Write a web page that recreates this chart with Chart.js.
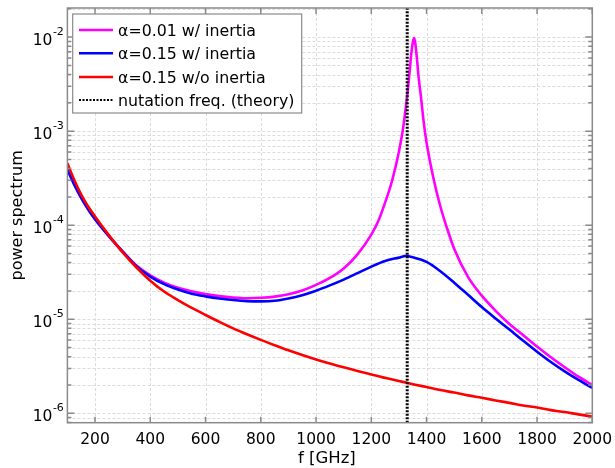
<!DOCTYPE html>
<html><head><meta charset="utf-8">
<script src="https://cdn.jsdelivr.net/npm/chart.js@4.4.1/dist/chart.umd.min.js"></script>
<style>html,body{margin:0;padding:0;background:#fff;}canvas{display:block;}</style>
</head><body>
<canvas id="c" width="615" height="468"></canvas>
<script>
// frequency grid for the broad curves [GHz]
const freq = [100,125,150,175,200,250,300,350,400,450,500,550,600,650,700,750,800,850,900,950,1000,1050,1100,1150,1200,1250,1300,1325,1350,1400,1450,1500,1550,1600,1650,1700,1750,1800,1850,1900,1950,2000];
// frequency grid for the sharp resonance curve [GHz]
const freqPeak = [100,125,150,175,200,250,300,350,400,450,500,550,600,650,700,750,800,850,900,950,1000,1050,1100,1150,1200,1225,1250,1275,1300,1315,1330,1340,1345,1355,1365,1370,1380,1390,1400,1425,1450,1475,1500,1550,1600,1650,1700,1750,1800,1850,1900,1950,2000];
const alpha001Inertia = [3.89e-4,2.69e-4,1.95e-4,1.48e-4,1.16e-4,
 7.67e-5,5.27e-5,3.72e-5,2.92e-5,2.45e-5,2.16e-5,1.98e-5,1.85e-5,1.76e-5,1.70e-5,1.67e-5,1.69e-5,1.74e-5,1.84e-5,2.02e-5,2.32e-5,2.75e-5,3.47e-5,4.90e-5,
 7.94e-5,1.10e-4,1.74e-4,2.95e-4,6.03e-4,
 1.07e-3,2.40e-3,4.68e-3,6.76e-3,9.77e-3,6.03e-3,4.07e-3,2.29e-3,1.23e-3,7.59e-4,
 3.16e-4,1.58e-4,9.12e-5,5.62e-5,
 2.82e-5,1.78e-5,1.23e-5,8.91e-6,6.76e-6,5.13e-6,3.94e-6,3.09e-6,2.45e-6,2.00e-6];
const alpha015Inertia = [3.89e-4,2.69e-4,1.95e-4,1.48e-4,1.16e-4,
 7.67e-5,5.25e-5,3.67e-5,2.84e-5,2.36e-5,2.07e-5,1.87e-5,1.75e-5,1.66e-5,1.60e-5,1.56e-5,1.55e-5,1.57e-5,1.66e-5,1.80e-5,2.01e-5,2.29e-5,2.64e-5,3.09e-5,3.63e-5,
 4.17e-5,4.52e-5,4.70e-5,4.57e-5,4.07e-5,3.24e-5,2.45e-5,
 1.82e-5,1.35e-5,1.02e-5,7.76e-6,5.89e-6,4.52e-6,3.51e-6,2.79e-6,2.26e-6,1.86e-6];
const alpha015NoInertia = [4.57e-4,3.02e-4,2.11e-4,1.58e-4,1.24e-4,
 7.85e-5,5.13e-5,3.55e-5,2.57e-5,1.97e-5,1.60e-5,1.32e-5,1.11e-5,9.38e-6,8.00e-6,6.92e-6,6.03e-6,5.30e-6,4.68e-6,4.17e-6,3.74e-6,3.38e-6,3.08e-6,2.82e-6,2.58e-6,
 2.38e-6,2.20e-6,2.12e-6,2.04e-6,1.90e-6,1.77e-6,1.66e-6,
 1.55e-6,1.46e-6,1.37e-6,1.29e-6,1.21e-6,1.15e-6,1.08e-6,1.03e-6,9.73e-7,9.23e-7];
const nutationFreq = 1330;
const seriesLabels = ['\u03b1=0.01 w/ inertia','\u03b1=0.15 w/ inertia','\u03b1=0.15 w/o inertia','nutation freq. (theory)'];
const xTickValues = [200,400,600,800,1000,1200,1400,1600,1800,2000];
const yDecadeExponents = [-2,-3,-4,-5,-6];
const xMin = 100, xMax = 2000;
const yMin = 7.94e-7, yMax = 2.04e-2;
const xTitle = 'f [GHz]';
const yTitle = 'power spectrum';

const FONT = '"DejaVu Sans", sans-serif';
const toXY = (xs, arr) => xs.map((f,i)=>({x:f,y:arr[i]}));

const decor = {
  id:'decor',
  beforeDatasetsDraw(chart){
    const {ctx, chartArea:a, scales:{x:xs,y:ys}} = chart;
    ctx.save();
    ctx.strokeStyle = '#dcdcdc'; ctx.lineWidth = 1; ctx.setLineDash([3,2]);
    ctx.beginPath();
    xTickValues.forEach(v=>{const px=Math.round(xs.getPixelForValue(v))+0.5; ctx.moveTo(px,a.top); ctx.lineTo(px,a.bottom);});
    for(let e=-7;e<=-1;e++){for(let m=1;m<=9;m++){const v=m*Math.pow(10,e); if(v<yMin||v>yMax) continue; const py=Math.round(ys.getPixelForValue(v))+0.5; ctx.moveTo(a.left,py); ctx.lineTo(a.right,py);}}
    ctx.stroke();
    ctx.restore();
  },
  afterDatasetsDraw(chart){
    const {ctx, chartArea:a, scales:{x:xs,y:ys}} = chart;
    ctx.save();
    ctx.setLineDash([]);
    ctx.strokeStyle = '#8a8a8a'; ctx.lineWidth = 1.5;
    ctx.strokeRect(a.left, a.top, a.right-a.left, a.bottom-a.top);
    ctx.beginPath();
    xTickValues.forEach(v=>{const px=xs.getPixelForValue(v); ctx.moveTo(px,a.bottom); ctx.lineTo(px,a.bottom-6); ctx.moveTo(px,a.top); ctx.lineTo(px,a.top+6);});
    for(let e=-7;e<=-1;e++){for(let m=1;m<=9;m++){const v=m*Math.pow(10,e); if(v<yMin||v>yMax) continue; const py=ys.getPixelForValue(v); const L=m===1?7:4; ctx.moveTo(a.left,py); ctx.lineTo(a.left+L,py); ctx.moveTo(a.right,py); ctx.lineTo(a.right-L,py);}}
    ctx.stroke();
    // tick labels
    ctx.fillStyle = '#000';
    ctx.font = '15.5px ' + FONT; ctx.textAlign='center'; ctx.textBaseline='alphabetic';
    xTickValues.forEach(v=>{ctx.fillText(String(v), xs.getPixelForValue(v), a.bottom+21.5);});
    yDecadeExponents.forEach(e=>{
      const py = ys.getPixelForValue(Math.pow(10,e));
      ctx.font = '15.5px ' + FONT; ctx.textAlign='right';
      ctx.fillText('10', a.left-15, py+7.4);
      ctx.font = '11px ' + FONT; ctx.textAlign='left';
      ctx.fillText(String(e), a.left-14.5, py-2);
    });
    // titles
    ctx.font = '16.5px ' + FONT; ctx.textAlign='center';
    ctx.fillText(xTitle, (a.left+a.right)/2-3, 462.5);
    ctx.save();
    ctx.translate(21.5, (a.top+a.bottom)/2);
    ctx.rotate(-Math.PI/2);
    ctx.font = '16px ' + FONT;
    ctx.fillText(yTitle, 0, 0);
    ctx.restore();
    // legend
    const lx=72.7, ly=14, lw=229, lh=99;
    ctx.fillStyle='#fff'; ctx.fillRect(lx,ly,lw,lh);
    ctx.strokeStyle='#8a8a8a'; ctx.lineWidth=1.2; ctx.strokeRect(lx,ly,lw,lh);
    const rows=[30,53.3,77,100];
    chart.data.datasets.forEach((ds,i)=>{
      const ry=rows[i];
      ctx.save();
      ctx.strokeStyle=ds.borderColor; ctx.lineWidth = i===3?2:2.5;
      ctx.setLineDash(i===3?[2,1.5]:[]);
      ctx.beginPath(); ctx.moveTo(79,ry); ctx.lineTo(113,ry); ctx.stroke();
      ctx.restore();
      ctx.fillStyle='#000'; ctx.font='15.8px ' + FONT; ctx.textAlign='left';
      ctx.fillText(ds.label, 118, ry+6);
    });
    ctx.restore();
  }
};

new Chart(document.getElementById('c'), {
  type:'line',
  data:{datasets:[
    {label:seriesLabels[0], data:toXY(freqPeak, alpha001Inertia), borderColor:'#ff00ff', borderWidth:2.6, order:3},
    {label:seriesLabels[1], data:toXY(freq, alpha015Inertia), borderColor:'#0000ff', borderWidth:2.6, order:2},
    {label:seriesLabels[2], data:toXY(freq, alpha015NoInertia), borderColor:'#ff0000', borderWidth:2.6, order:1},
    {label:seriesLabels[3], data:[{x:nutationFreq,y:yMin},{x:nutationFreq,y:yMax}], borderColor:'#000000', borderWidth:3, borderDash:[2,1.5], borderCapStyle:'butt', order:0, cubicInterpolationMode:'default', tension:0}
  ]},
  options:{
    responsive:false, animation:false, devicePixelRatio:1,
    layout:{padding:{left:0,top:8,right:22.7,bottom:0}},
    elements:{point:{radius:0,hoverRadius:0}, line:{cubicInterpolationMode:'monotone', fill:false}},
    plugins:{legend:{display:false}, tooltip:{enabled:false}},
    events:[],
    scales:{
      x:{type:'linear', min:xMin, max:xMax, ticks:{display:false}, grid:{display:false}, border:{display:false},
         afterFit(s){s.height=45.3;}},
      y:{type:'logarithmic', min:yMin, max:yMax, ticks:{display:false}, grid:{display:false}, border:{display:false},
         afterFit(s){s.width=67.4;}}
    }
  },
  plugins:[decor]
});
</script></body></html>
